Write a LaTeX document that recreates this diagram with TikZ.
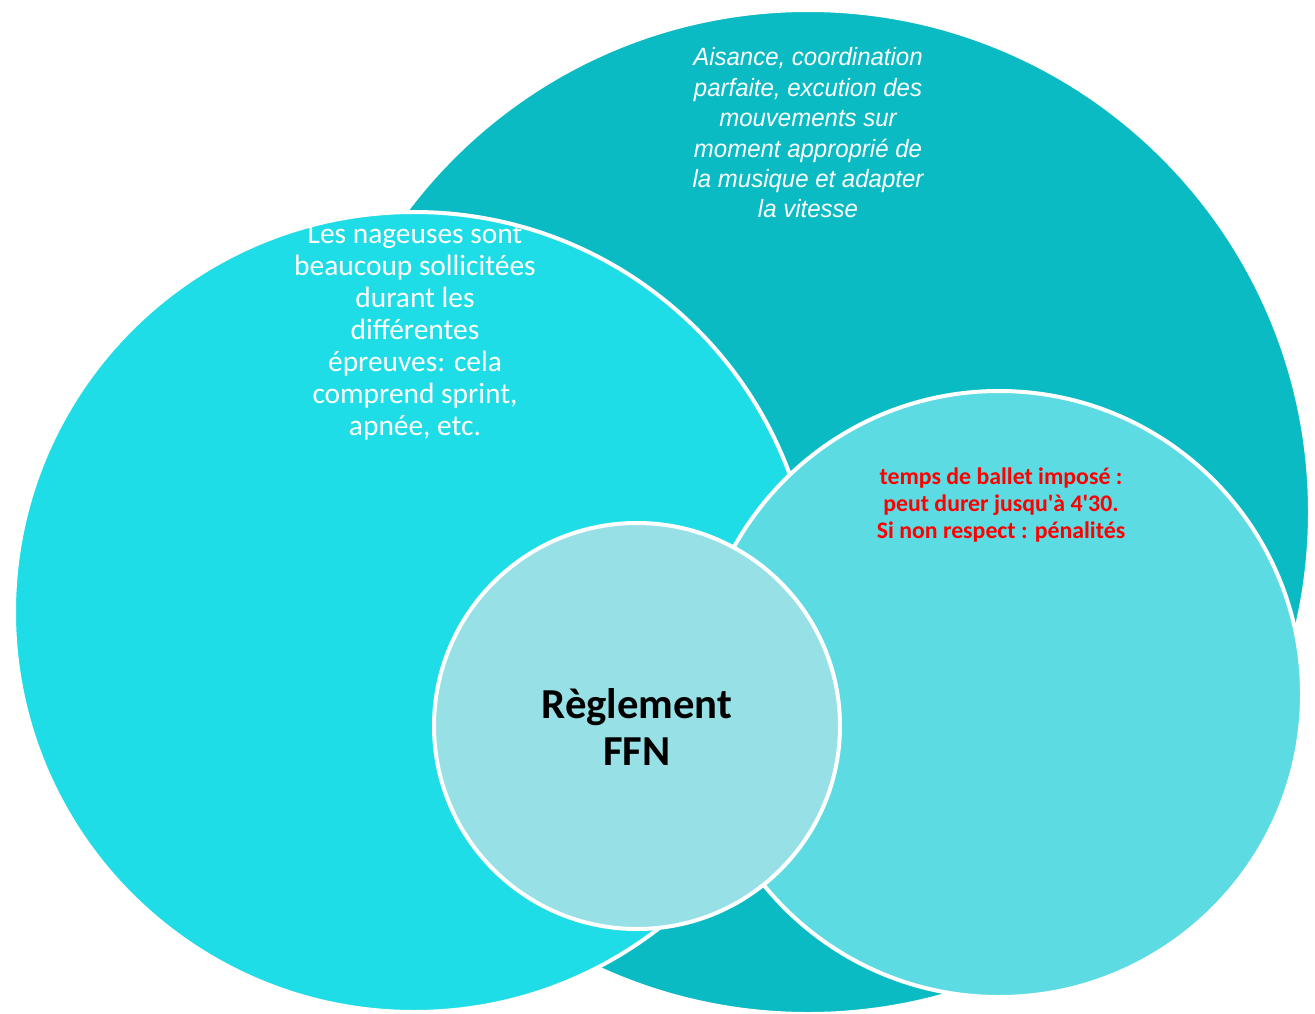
\documentclass[tikz,border=0pt]{standalone}
\usepackage{fontspec}
\setmainfont{Carlito}
\newfontfamily\arialfont[FakeStretch=0.96]{Liberation Sans}
\usepackage{xcolor}

\definecolor{tealdark}{HTML}{0BBBC4}
\definecolor{cyanbright}{HTML}{1FDDE7}
\definecolor{cyanmid}{HTML}{5CDBE3}
\definecolor{cyanpale}{HTML}{97E0E6}
\definecolor{alertred}{HTML}{FF0000}

\tikzset{
    bubble/.style={circle, draw=white, line width=4pt, inner sep=0pt},
    bubbletext/.style={align=center, text=white, inner sep=0pt}
}

\begin{document}
\begin{tikzpicture}[x=1pt, y=-1pt]
        \useasboundingbox (0,0) rectangle (1315,1014);

        % Back circle
        \node[bubble, fill=tealdark, minimum size=1004pt] (jury) at (808,512) {};
        \node[bubbletext, font=\arialfont\itshape\fontsize{25}{30.4}\selectfont] (jurytext) at (808,133)
            {Aisance, coordination\\parfaite, excution des\\mouvements sur\\moment appropri\'e de\\la musique et adapter\\la vitesse};

        % Left circle
        \node[bubble, fill=cyanbright, minimum size=800pt] (effort) at (414,612) {};
        \node[bubbletext, font=\fontsize{29.4}{32}\selectfont] (efforttext) at (415,332)
            {Les nageuses sont\\beaucoup sollicit\'ees\\durant les\\diff\'erentes\\\'epreuves: cela\\comprend sprint,\\apn\'ee, etc.};

        % Right circle
        \node[bubble, fill=cyanmid, minimum size=606pt] (temps) at (999,694) {};
        \node[bubbletext, text=alertred, font=\bfseries\fontsize{23.8}{27}\selectfont] (tempstext) at (1001,505)
            {temps de ballet impos\'e :\\peut durer jusqu\textquotesingle\`a 4\textquotesingle30.\\Si non respect : p\'enalit\'es};

        % Centre
        \node[bubble, fill=cyanpale, minimum size=406pt] (ffn) at (637,726) {};
        \node[align=center, inner sep=0pt, font=\bfseries\fontsize{42.7}{47}\selectfont] (ffntext) at (637,727)
            {R\`eglement\\FFN};
    \end{tikzpicture}
\end{document}
